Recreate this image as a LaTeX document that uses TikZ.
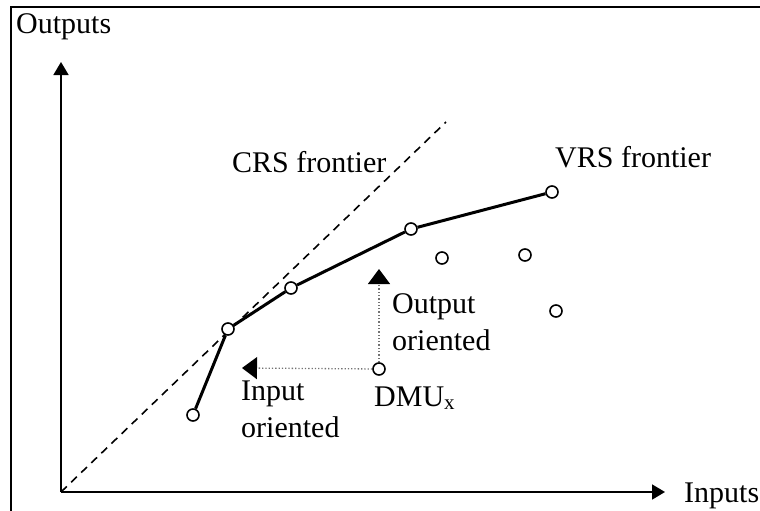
\documentclass[tikz,border=0pt]{standalone}
\usepackage{fontspec}
\setmainfont{Liberation Serif}
\usetikzlibrary{arrows.meta}
\begin{document}
\begin{tikzpicture}[x=1pt,y=-1pt,
  every node/.style={inner sep=0pt},
  lbl/.style={anchor=base west,font=\fontsize{30}{37}\selectfont,align=left},
  dmupt/.style={circle,draw,fill=white,line width=1.6pt,minimum size=12pt},
  frontier/.style={line width=3pt},
  axisline/.style={line width=1.8pt,-{Triangle[length=13pt,width=15pt]}},
  orient/.style={dotted,line width=1.3pt,black!55,-{Triangle[length=15pt,width=22pt,color=black]}},
  crs/.style={dashed,dash pattern=on 8pt off 6pt,line width=1.6pt},
  frame/.style={line width=1.5pt}]
\useasboundingbox (0,0) rectangle (760,511);
% frame
\coordinate (f1) at (11,511);
\coordinate (f2) at (11,7);
\coordinate (f3) at (760,7);
\draw[frame] (f1) -- (f2) -- (f3);
% axes
\coordinate (o) at (61,492);
\coordinate (ytip) at (61,62);
\coordinate (xtip) at (665,492);
\draw[crs] (o) -- (446,122) coordinate (crsend);
\draw[axisline] (o) -- (ytip);
\draw[axisline] (o) -- (xtip);
\node[lbl] (outputs) at (16,34) {Outputs};
\node[lbl] (inputs) at (684,502) {Inputs};
% points
\node[dmupt] (a) at (193,415) {};
\node[dmupt] (b) at (228,329) {};
\node[dmupt] (c) at (291,288) {};
\node[dmupt] (d) at (411,229) {};
\node[dmupt] (e) at (552,192) {};
\node[dmupt] (f) at (442,258) {};
\node[dmupt] (g) at (525,255) {};
\node[dmupt] (h) at (556,311) {};
\node[dmupt] (x) at (379,369) {};
\draw[frontier] (a) -- (b) -- (c) -- (d) -- (e);
% orientation arrows
\coordinate (outtip) at (379,269);
\coordinate (intip) at (242,368);
\draw[orient] (x) -- (outtip);
\draw[orient] (x) -- (intip);
% labels
\node[lbl] (crslbl) at (232,172) {CRS frontier};
\node[lbl] (vrslbl) at (555,167) {VRS frontier};
\node[lbl] (outor) at (392,350) {Output\\oriented};
\node[lbl] (inor) at (241,437) {Input\\oriented};
\node[lbl] (dmulbl) at (374,406) {DMU\textsubscript{x}};
\end{tikzpicture}
\end{document}
